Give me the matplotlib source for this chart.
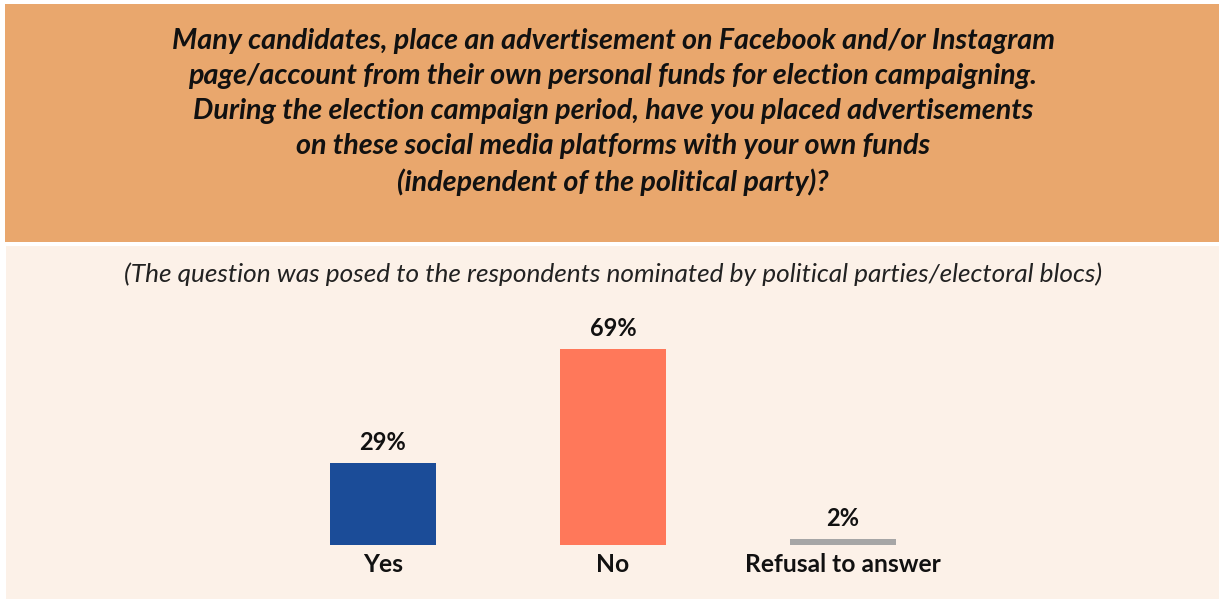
import matplotlib.pyplot as plt
from matplotlib.patches import Rectangle

categories = ["Yes", "No", "Refusal to answer"]
values = [29, 69, 2]
bar_colors = ["#1B4C98", "#FF785A", "#A6A6A6"]

title = ("Many candidates, place an advertisement on Facebook and/or Instagram\n"
         "page/account from their own personal funds for election campaigning.\n"
         "During the election campaign period, have you placed advertisements\n"
         "on these social media platforms with your own funds\n"
         "(independent of the political party)?")
subtitle = "(The question was posed to the respondents nominated by political parties/electoral blocs)"

W, H = 1219, 599
fig = plt.figure(figsize=(W / 100, H / 100), dpi=100)
fig.patch.set_facecolor("white")

# header and light panel, drawn on a background axes
bg = fig.add_axes([0, 0, 1, 1], zorder=0)
bg.set_xlim(0, W)
bg.set_ylim(H, 0)
bg.axis("off")
bg.add_patch(Rectangle((5, 4), W - 5, 238, facecolor="#E9A76D", edgecolor="none"))
bg.add_patch(Rectangle((6, 246), W - 6, H - 246, facecolor="#FCF1E8", edgecolor="none"))

bg.text(613, 112, title, ha="center", va="center",
        fontsize=20.7, fontweight="bold", fontstyle="italic",
        family="Lato", linespacing=1.43, color="#111111")
bg.text(613, 274, subtitle, ha="center", va="center",
        fontsize=18.9, fontstyle="italic", family="Lato", color="#222222")

# bars: baseline at y=545, 69% reaches y=349
ax = fig.add_axes([268 / W, 1 - 545 / H, 690 / W, 196 / 69 * 100 / H], zorder=2)
ax.set_facecolor("none")
x = range(len(categories))
bars = ax.bar(x, values, width=0.465, color=bar_colors)
ax.set_xlim(-0.5, 2.5)
ax.set_ylim(0, 100)
for b, v in zip(bars, values):
    ax.text(b.get_x() + b.get_width() / 2, v + 3.2, f"{v}%", ha="center",
            va="bottom", fontsize=17, fontweight="bold", family="Lato",
            color="#111111")
ax.set_xticks(list(x))
ax.set_xticklabels(categories, fontsize=17.7, fontweight="bold", family="Lato",
                   color="#111111")
ax.tick_params(axis="x", length=0, pad=6)
ax.set_yticks([])
for s in ax.spines.values():
    s.set_visible(False)

fig.savefig("out.png", dpi=100, facecolor=fig.get_facecolor())
